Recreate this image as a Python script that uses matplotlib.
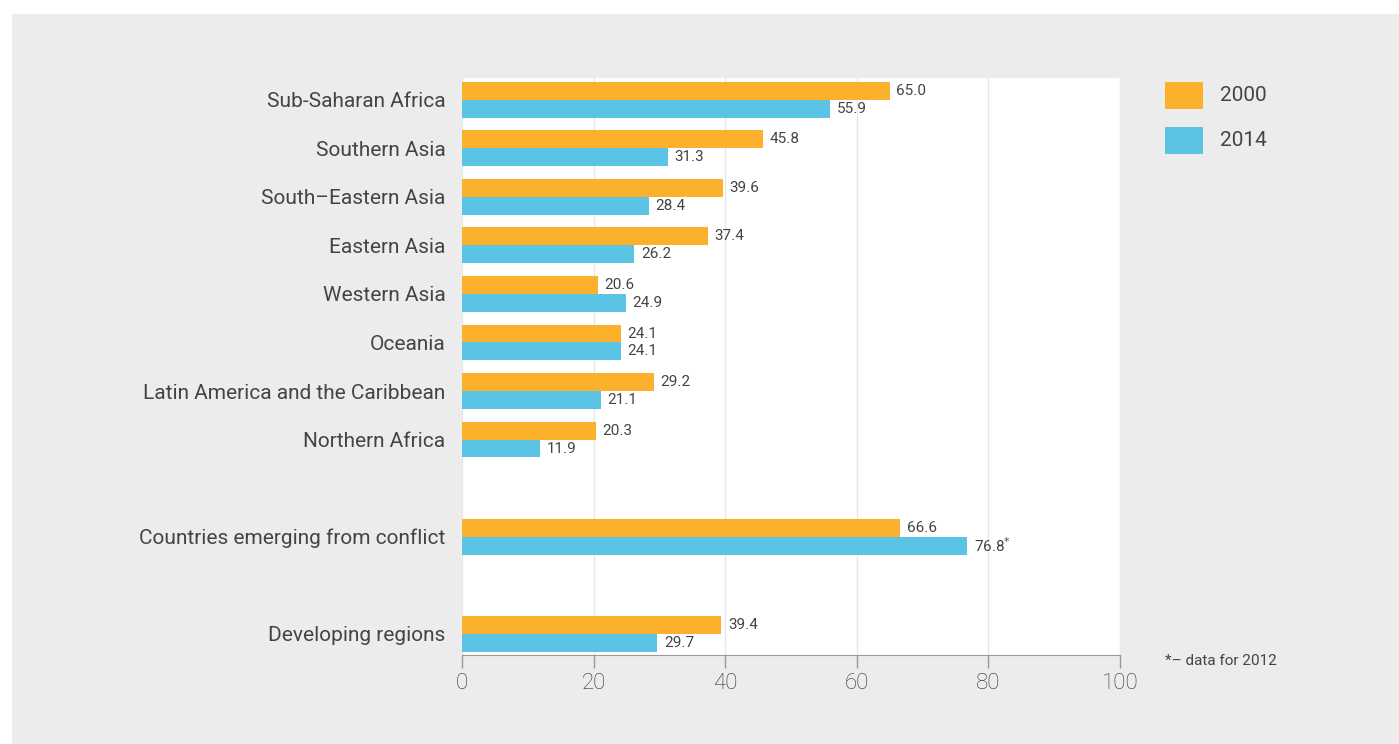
import matplotlib
matplotlib.use("Agg")
import matplotlib.pyplot as plt
from matplotlib.patches import Rectangle
import numpy as np

plt.rcParams["font.family"] = ["Roboto", "DejaVu Sans"]

regions = [
    "Sub-Saharan Africa",
    "Southern Asia",
    "South\u2013Eastern Asia",
    "Eastern Asia",
    "Western Asia",
    "Oceania",
    "Latin America and the Caribbean",
    "Northern Africa",
    "Countries emerging from conflict",
    "Developing regions",
]
slots = [0, 1, 2, 3, 4, 5, 6, 7, 9, 11]
vals_2000 = [65.0, 45.8, 39.6, 37.4, 20.6, 24.1, 29.2, 20.3, 66.6, 39.4]
vals_2014 = [55.9, 31.3, 28.4, 26.2, 24.9, 24.1, 21.1, 11.9, 76.8, 29.7]
labels_2014 = ["55.9", "31.3", "28.4", "26.2", "24.9", "24.1", "21.1", "11.9",
               "76.8$^{*}$", "29.7"]
series_names = ["2000", "2014"]

ORANGE = "#FBB12B"
BLUE = "#5BC4E5"
TEXT = "#444444"

fig = plt.figure(figsize=(13.99, 7.44), dpi=100)
fig.patches.append(Rectangle((12 / 1399, 0), 1 - 12 / 1399, 1 - 14 / 744,
                             transform=fig.transFigure, facecolor="#ececec",
                             edgecolor="none", zorder=-10))

ax = fig.add_axes([462 / 1399, 1 - 655 / 744, 658 / 1399, 577 / 744])
ax.set_facecolor("white")

y = np.array(slots, dtype=float)
h = 0.37
ax.barh(y - h / 2, vals_2000, height=h, color=ORANGE, zorder=3)
ax.barh(y + h / 2, vals_2014, height=h, color=BLUE, zorder=3)

for yi, v in zip(y, vals_2000):
    ax.text(v + 1.0, yi - h / 2, f"{v:.1f}", va="center", ha="left",
            fontsize=11, color=TEXT)
for yi, v, lab in zip(y, vals_2014, labels_2014):
    ax.text(v + 1.0, yi + h / 2, lab, va="center", ha="left",
            fontsize=11, color=TEXT)

ax.set_xlim(0, 100)
ax.set_ylim(11.44, -0.45)
ax.set_xticks([0, 20, 40, 60, 80, 100])
ax.set_xticklabels(["0", "20", "40", "60", "80", "100"], fontsize=16,
                   color="#333333", fontweight="light")
ax.set_yticks(y)
ax.set_yticklabels(regions, fontsize=15, color=TEXT)
ax.tick_params(axis="y", length=0, pad=12)
ax.tick_params(axis="x", length=9, width=1, color="#999999", pad=4)
ax.grid(axis="x", color="#e3e8ee", lw=1, zorder=0)
for s in ["top", "right", "left"]:
    ax.spines[s].set_visible(False)
ax.spines["bottom"].set_color("#999999")

# legend
for i, (name, col) in enumerate(zip(series_names, [ORANGE, BLUE])):
    top = 82 + i * 45
    fig.patches.append(Rectangle((1165 / 1399, 1 - (top + 27) / 744),
                                 38 / 1399, 27 / 744, transform=fig.transFigure,
                                 facecolor=col, edgecolor="none"))
    fig.text(1220 / 1399, 1 - (top + 13.5) / 744, name, fontsize=15,
             color=TEXT, va="center", ha="left")

fig.text(1165 / 1399, 1 - 661 / 744, "*\u2013 data for 2012", fontsize=11,
         color=TEXT, va="center", ha="left")

fig.savefig("out.png", dpi=100)
